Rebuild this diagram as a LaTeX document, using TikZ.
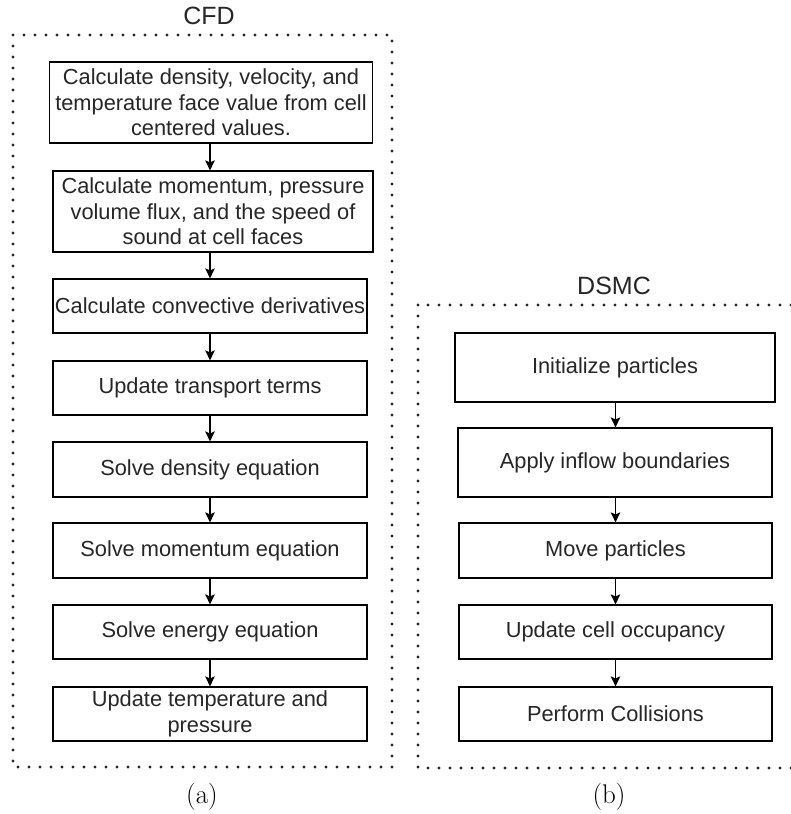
\documentclass[tikz,border=0pt]{standalone}
\usepackage{fontspec}
\setsansfont{Liberation Sans}
\usetikzlibrary{arrows.meta}
\begin{document}
\begin{tikzpicture}[x=1pt,y=-1pt,
  stepbox/.style={draw=black, line width=1.2pt, fill=white, inner sep=0pt, align=center,
    font=\sffamily\fontsize{21.8}{25.5}\selectfont, text=black!85},
  flow/.style={-{Stealth[length=10pt,width=9.5pt,inset=2pt]}, line width=1.3pt, draw=black},
  dotbox/.style={draw=black!85, line width=3.2pt, line cap=round, dash pattern=on 0pt off 11pt},
  title/.style={font=\sffamily\fontsize{25}{29}\selectfont, text=black!85},
  caption/.style={font=\fontsize{27}{31}\selectfont}]
\useasboundingbox (0,0) rectangle (791,814);
% dotted frames
\draw[dotbox] (13,35) rectangle (392,767);
\draw[dotbox] (418,305) rectangle (796,768);
\node[title] (cfd) at (209,16) {CFD};
\node[title] (dsmc) at (614,286) {DSMC};
% CFD column
\node[stepbox, minimum width=323, minimum height=81] (c1) at (211,102.5) {Calculate density, velocity, and\\temperature face value from cell\\centered values.};
\node[stepbox, minimum width=320, minimum height=81] (c2) at (213,211.5) {Calculate momentum, pressure\\volume flux, and the speed of\\sound at cell faces};
\node[stepbox, minimum width=314, minimum height=54] (c3) at (210,306) {Calculate convective derivatives};
\node[stepbox, minimum width=314, minimum height=54] (c4) at (210,388) {Update transport terms};
\node[stepbox, minimum width=314, minimum height=55] (c5) at (210,469.5) {Solve density equation};
\node[stepbox, minimum width=314, minimum height=55] (c6) at (210,550.5) {Solve momentum equation};
\node[stepbox, minimum width=314, minimum height=54] (c7) at (210,632) {Solve energy equation};
\node[stepbox, minimum width=314, minimum height=54] (c8) at (210,714) {Update temperature and\\pressure};
\foreach \a/\b in {c1/c2,c2/c3,c3/c4,c4/c5,c5/c6,c6/c7,c7/c8}
  \draw[flow] (\a.south -| c3.center) -- (\b.north -| c3.center);
% DSMC column
\node[stepbox, minimum width=320, minimum height=69] (d1) at (615,367.5) {Initialize particles};
\node[stepbox, minimum width=314, minimum height=69] (d2) at (615,462.5) {Apply inflow boundaries};
\node[stepbox, minimum width=313, minimum height=55] (d3) at (615.5,550.5) {Move particles};
\node[stepbox, minimum width=313, minimum height=54] (d4) at (615.5,632) {Update cell occupancy};
\node[stepbox, minimum width=313, minimum height=54] (d5) at (615.5,714) {Perform Collisions};
\foreach \a/\b in {d1/d2,d2/d3,d3/d4,d4/d5}
  \draw[flow] (\a.south -| d3.center) -- (\b.north -| d3.center);
% captions
\node[caption] (capa) at (202,797) {(a)};
\node[caption] (capb) at (609,797) {(b)};
\end{tikzpicture}
\end{document}
